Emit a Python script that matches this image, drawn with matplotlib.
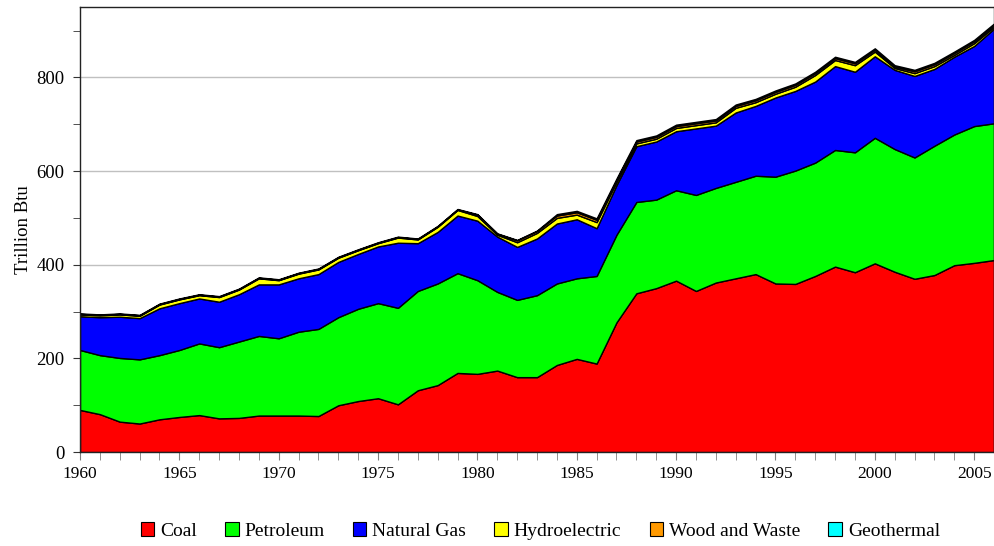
import matplotlib
matplotlib.use("Agg")
import matplotlib.pyplot as plt
from matplotlib.patches import Patch
from matplotlib.ticker import MultipleLocator

plt.rcParams['font.family'] = ['Liberation Serif', 'DejaVu Serif']

years = list(range(1960, 2007))

coal = [90, 81, 65, 61, 70, 75, 79, 72, 73, 78,
        78, 78, 77, 100, 109, 115, 102, 132, 143, 169,
        167, 174, 160, 160, 186, 199, 189, 277, 339, 350,
        366, 344, 362, 371, 380, 360, 359, 376, 396, 384,
        403, 385, 370, 378, 399, 404, 410]

petroleum = [128, 126, 136, 137, 137, 143, 153, 152, 163, 170,
             165, 179, 186, 188, 197, 203, 206, 212, 217, 213,
             200, 168, 165, 175, 174, 172, 187, 187, 195, 189,
             193, 205, 202, 206, 210, 228, 242, 242, 249, 256,
             268, 262, 259, 276, 279, 292, 292]

natural_gas = [72, 81, 88, 88, 100, 100, 96, 97, 101, 110,
               115, 114, 117, 118, 117, 121, 139, 102, 110, 123,
               127, 118, 113, 121, 128, 126, 102, 106, 119, 124,
               126, 142, 133, 148, 149, 169, 170, 173, 179, 172,
               174, 169, 174, 164, 166, 171, 202]

hydro = [4, 4, 5, 5, 8, 8, 7, 10, 10, 13,
         9, 10, 10, 9, 8, 7, 11, 8, 11, 12,
         10, 4, 10, 12, 12, 10, 13, 7, 6, 6,
         7, 7, 7, 10, 8, 8, 9, 14, 13, 14,
         10, 4, 6, 6, 4, 6, 4]

wood = [1, 1, 1, 1, 1, 1, 1, 1, 1, 1,
        1, 1, 1, 1, 1, 1, 1, 1, 1, 1,
        3, 2, 4, 4, 5, 5, 5, 4, 4, 4,
        4, 4, 4, 4, 4, 4, 4, 4, 4, 4,
        4, 3, 4, 4, 4, 4, 4]

geothermal = [1, 1, 1, 1, 1, 1, 1, 1, 1, 1,
              1, 1, 1, 1, 1, 1, 1, 1, 1, 1,
              1, 1, 1, 1, 3, 3, 3, 3, 3, 3,
              3, 3, 3, 3, 3, 3, 3, 3, 3, 3,
              3, 3, 3, 3, 3, 3, 3]

labels = ['Coal', 'Petroleum', 'Natural Gas', 'Hydroelectric', 'Wood and Waste', 'Geothermal']
colors = ['#ff0000', '#00ff00', '#0000ff', '#ffff00', '#ff9900', '#00ffff']

fig = plt.figure(figsize=(9.95, 5.46), dpi=100)
ax = fig.add_axes([0.0804, 0.172, 0.9186, 0.815])

ax.stackplot(years, coal, petroleum, natural_gas, hydro, wood, geothermal,
             colors=colors, edgecolor='black', linewidth=1.0, zorder=2)

ax.set_xlim(1960, 2006)
ax.set_ylim(0, 950)

ax.yaxis.set_major_locator(MultipleLocator(200))
ax.yaxis.set_minor_locator(MultipleLocator(100))
ax.xaxis.set_major_locator(MultipleLocator(5))
ax.xaxis.set_minor_locator(MultipleLocator(1))

ax.grid(axis='y', which='major', color='#c0c0c0', linewidth=1.0, zorder=0)
ax.set_axisbelow(True)

ax.tick_params(axis='both', which='both', direction='out')
ax.tick_params(axis='y', which='major', length=5, color='#333333', labelsize=13.5, pad=6)
ax.tick_params(axis='y', which='minor', length=5, color='#333333')
ax.tick_params(axis='x', which='major', length=6, color='#808080', labelsize=12.5, pad=4)
ax.tick_params(axis='x', which='minor', length=6, color='#808080')

for s in ax.spines.values():
    s.set_color('#222222')
    s.set_linewidth(1.0)

ax.set_ylabel('Trillion Btu', fontsize=13.5, labelpad=3)

handles = [Patch(facecolor=c, edgecolor='black', linewidth=0.8) for c in colors]
fig.legend(handles, labels, loc='center', bbox_to_anchor=(0.543, 0.028), ncol=6,
           frameon=False, fontsize=14, handlelength=0.7, handleheight=0.7,
           handletextpad=0.3, columnspacing=1.45)

fig.savefig('out.png', dpi=100)
